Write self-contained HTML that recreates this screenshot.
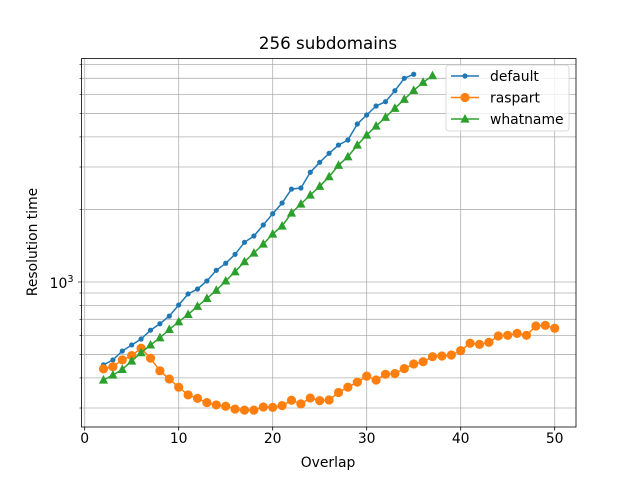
<!DOCTYPE html>
<html><head><meta charset="utf-8"><style>
html,body{margin:0;padding:0;background:#fff;}
svg{display:block;font-family:"DejaVu Sans","Liberation Sans",sans-serif;}
</style></head><body>
<svg id="chart" width="640" height="480" viewBox="0 0 640 480" xmlns="http://www.w3.org/2000/svg">
<rect x="0" y="0" width="640" height="480" fill="#fff"/>
<g id="grid"></g>
<g id="series"></g>
<rect x="81.5" y="58.5" width="494.5" height="368.5" fill="none" stroke="#000" stroke-width="0.8"/>
<g id="axes"></g>
<text x="328" y="49" text-anchor="middle" font-size="16.7">256 subdomains</text>
<text x="328" y="467" text-anchor="middle" font-size="13.9">Overlap</text>
<text transform="translate(37,242) rotate(-90)" text-anchor="middle" font-size="13.9">Resolution time</text>
<g id="legend"></g>
</svg>
<script>
const xDefault=[2,3,4,5,6,7,8,9,10,11,12,13,14,15,16,17,18,19,20,21,22,23,24,25,26,27,28,29,30,31,32,33,34,35];
const yDefault=[453,475,517,548,580,631,671,722,803,892,935,1010,1118,1196,1303,1461,1552,1724,1920,2127,2430,2455,2853,3138,3420,3700,3884,4525,4930,5375,5600,6220,7000,7280];
const xRaspart=[2,3,4,5,6,7,8,9,10,11,12,13,14,15,16,17,18,19,20,21,22,23,24,25,26,27,28,29,30,31,32,33,34,35,36,37,38,39,40,41,42,43,44,45,46,47,48,49,50];
const yRaspart=[436,445,475,495,531,483,428,396,366,340,329,316,309,305,297,294,294,303,302,307,323,312,330,322,324,348,366,384,407,392,414,417,437,457,467,490,493,498,519,557,551,562,597,601,612,601,657,661,643];
const xWhatname=[2,3,4,5,6,7,8,9,10,11,12,13,14,15,16,17,18,19,20,21,22,23,24,25,26,27,28,29,30,31,32,33,34,35,36,37];
const yWhatname=[392,411,434,470,509,548,587,636,684,734,793,855,924,1010,1103,1214,1319,1438,1582,1707,1933,2107,2296,2495,2735,3050,3310,3700,4073,4437,4824,5260,5730,6240,6740,7180];
const xTicks=[0,10,20,30,40,50];
const xTickLabels=["0","10","20","30","40","50"];
const yMinor=[300,400,500,600,700,800,900,2000,3000,4000,5000,6000,7000,8000];

const NS="http://www.w3.org/2000/svg";
const L=81.5,R=576,T=58.5,B=427;
function sx(v){return 84.7+v*9.4;}
function sy(v){return 282-Math.log10(v/1000)*241;}
function mk(tag,attrs,parent){const e=document.createElementNS(NS,tag);for(const k in attrs)e.setAttribute(k,attrs[k]);parent.appendChild(e);return e;}
const grid=document.getElementById('grid'),axes=document.getElementById('axes'),series=document.getElementById('series'),legend=document.getElementById('legend');

xTicks.forEach((t,i)=>{
  const x=sx(t);
  let g=mk('line',{x1:x,x2:x,y1:T,y2:B,stroke:'#b0b0b0','stroke-width':0.8},grid);
  
  
  let tk=mk('line',{x1:x,x2:x,y1:B,y2:B+3.5,stroke:'#000','stroke-width':0.8},axes);
  
  
  let tl=mk('text',{x:x,y:B+16,'text-anchor':'middle','font-size':13.9},axes);
  tl.textContent=xTickLabels[i];
  
  
});
yMinor.concat([1000]).forEach(v=>{
  const y=sy(v);
  if(y<T||y>B)return;
  let g=mk('line',{x1:L,x2:R,y1:y,y2:y,stroke:'#b0b0b0','stroke-width':0.8},grid);
  
  
  let tk=mk('line',{x1:L-(v===1000?3.5:2),x2:L,y1:y,y2:y,stroke:'#000','stroke-width':0.6},axes);
  
  
});
let yl=mk('text',{x:L-8,y:sy(1000)+6,'text-anchor':'end','font-size':13.9},axes);
yl.innerHTML='10<tspan dy="-6" font-size="9.7">3</tspan>';



function drawSeries(xs,ys,color,marker,name){
  const g=mk('g',{},series);
  
  
  const pts=xs.map((x,i)=>sx(x).toFixed(1)+','+sy(ys[i]).toFixed(1)).join(' ');
  const pl=mk('polyline',{points:pts,fill:'none',stroke:color,'stroke-width':1.5},g);
  
  
  xs.forEach((x,i)=>{
    const m=drawMarker(g,sx(x),sy(ys[i]),color,marker);
    
    
  });
}
function drawMarker(g,x,y,color,marker){
  if(marker==='dot')return mk('circle',{cx:x,cy:y,r:2.6,fill:color},g);
  if(marker==='circle')return mk('circle',{cx:x,cy:y,r:4.6,fill:color},g);
  return mk('polygon',{points:`${x},${y-5} ${x-4.6},${y+3.6} ${x+4.6},${y+3.6}`,fill:color},g);
}
drawSeries(xDefault,yDefault,'#1f77b4','dot','default');
drawSeries(xRaspart,yRaspart,'#ff7f0e','circle','raspart');
drawSeries(xWhatname,yWhatname,'#2ca02c','tri','whatname');

const lb=mk('rect',{x:446,y:65,width:123,height:66,rx:3,fill:'#fff','fill-opacity':0.8,stroke:'#d0d0d0','stroke-width':0.8},legend);


[['default','#1f77b4','dot'],['raspart','#ff7f0e','circle'],['whatname','#2ca02c','tri']].forEach((e,i)=>{
  const y=76+i*21.5;
  const g=mk('g',{},legend);
  
  
  mk('line',{x1:451,x2:479,y1:y,y2:y,stroke:e[1],'stroke-width':1.5},g);
  drawMarker(g,465,y,e[1],e[2]);
  const t=mk('text',{x:490,y:y+5,'font-size':13.9},g);
  t.textContent=e[0];
});
</script>
</body></html>
